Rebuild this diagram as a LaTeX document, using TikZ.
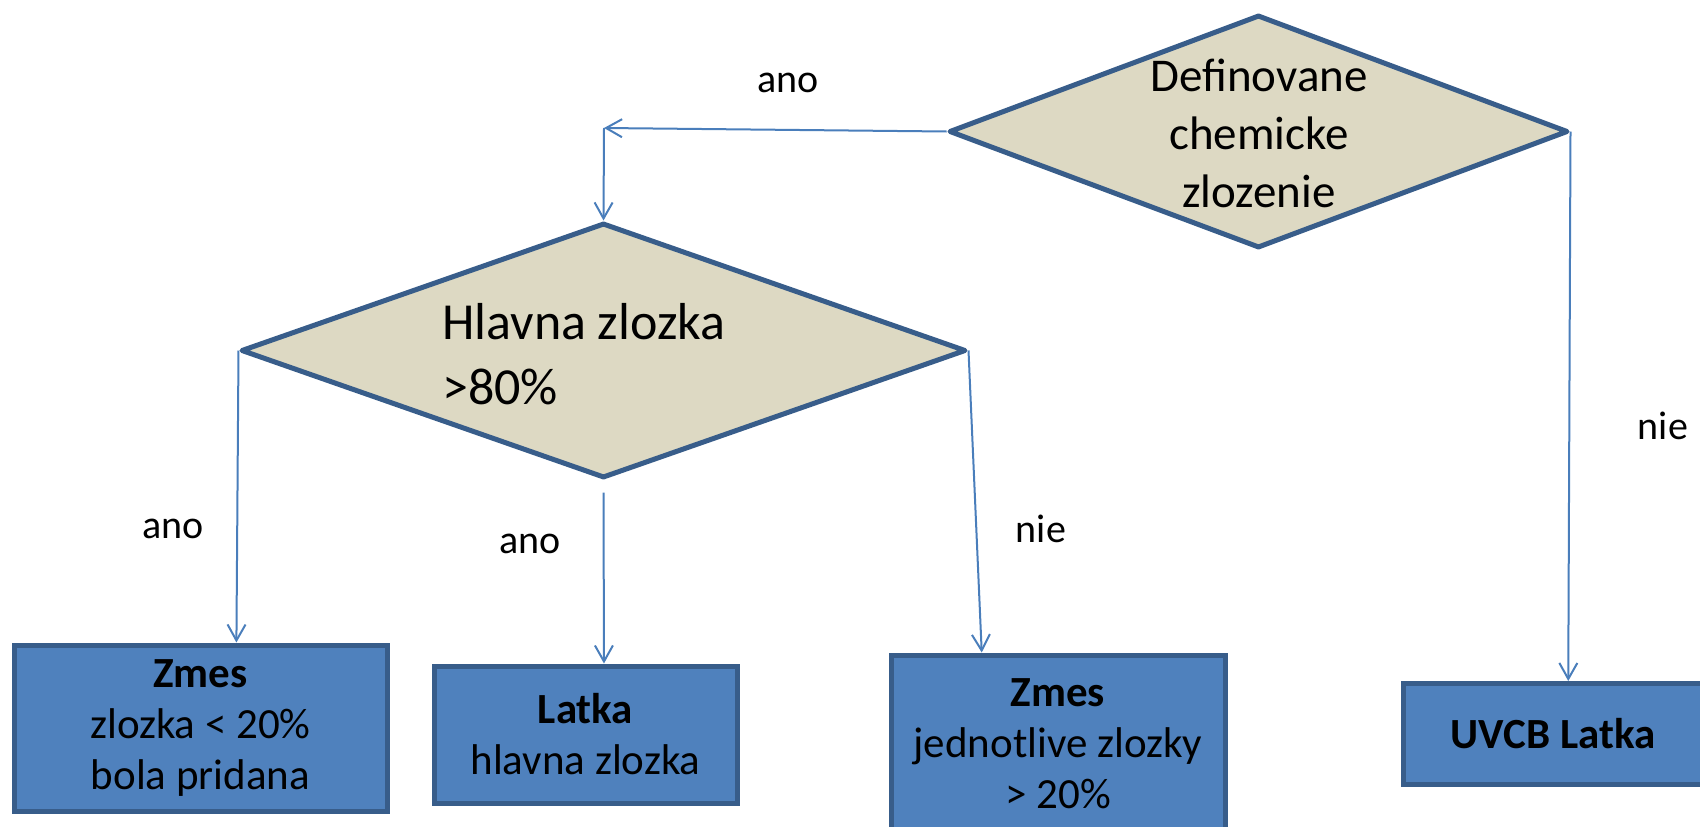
\documentclass[tikz,border=0pt]{standalone}
\usepackage{fontspec}
\setmainfont{Carlito}
\usetikzlibrary{shapes.geometric,arrows.meta,calc}
\definecolor{decfill}{HTML}{DDD9C3}
\definecolor{edgeblue}{HTML}{385D8A}
\definecolor{boxblue}{HTML}{4F81BD}
\definecolor{arrblue}{HTML}{4A7EBB}
\begin{document}
\begin{tikzpicture}[x=1pt,y=-1pt,
  decision/.style={diamond, draw=edgeblue, fill=decfill, line width=5pt, line join=round, inner sep=0pt},
  outcome/.style={rectangle, draw=edgeblue, fill=boxblue, line width=5pt, align=center, inner sep=0pt, font=\fontsize{43}{51}\selectfont},
  conn/.style={draw=arrblue, line width=2pt, -{Straight Barb[length=16pt,width=18pt,line width=2pt]}},
  lbl/.style={font=\fontsize{40}{48}\selectfont}]
\useasboundingbox (0,0) rectangle (1700,827);

% decisions
\node[decision, minimum width=619pt, minimum height=233pt] (d1) at (1258.5,131.5) {};
\node[decision, minimum width=725pt, minimum height=255pt] (d2) at (603.5,350.5) {};
\node[font=\fontsize{47}{58}\selectfont, align=center, inner sep=0pt] (t1) at (1259,133.5) {Definovane\\chemicke\\zlozenie};
\node[font=\fontsize{52}{65}\selectfont, align=left, anchor=west, inner sep=0pt] (t2) at (442,354) {Hlavna zlozka\\>80\%};

% outcomes
\node[outcome, minimum width=373pt, minimum height=166pt] (b1) at (200.5,728) {\textbf{Zmes}\\zlozka < 20\%\\bola pridana};
\node[outcome, minimum width=303pt, minimum height=137pt] (b2) at (585.5,734.5) {\textbf{Latka}\\hlavna zlozka};
\node[outcome, minimum width=334pt, minimum height=178pt] (b3) at (1058,744) {\textbf{Zmes}\\jednotlive zlozky\\> 20\%};
\node[outcome, minimum width=300pt, minimum height=101pt] (b4) at (1553,734) {\textbf{UVCB Latka}};

% connectors
\coordinate (c1) at (604,128);
\draw[conn] (d1.west) -- (c1);
\draw[conn] (c1) -- (d2.north);
\draw[conn] (d2.west) -- ($(b1.north west)!0.595!(b1.north east)$);
\draw[conn] ($(d2.south)+(0,12)$) -- ($(b2.north west)!0.56!(b2.north east)$);
\draw[conn] (d2.east) -- ($(b3.north west)!0.275!(b3.north east)$);
\draw[conn] (d1.east) -- ($(b4.north west)!0.55!(b4.north east)$);

% labels
\node[lbl] (l1) at (788,83) {ano};
\node[lbl] (l2) at (173,529) {ano};
\node[lbl] (l3) at (530,544) {ano};
\node[lbl] (l4) at (1041,529) {nie};
\node[lbl] (l5) at (1663,426) {nie};
\end{tikzpicture}
\end{document}
